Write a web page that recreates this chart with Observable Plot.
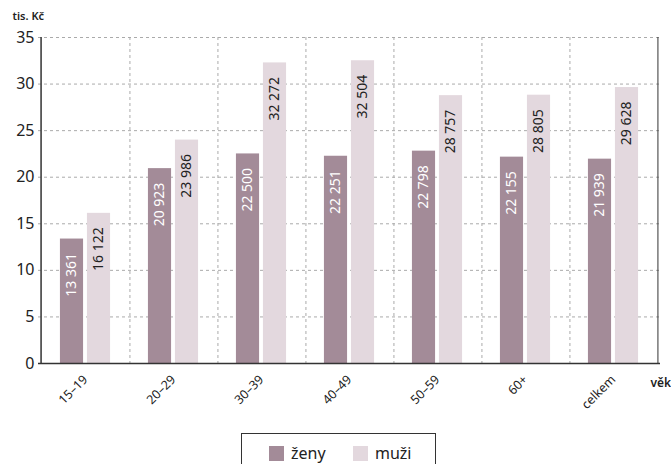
<!DOCTYPE html>
<html>
<head>
<meta charset="utf-8">
<script src="https://cdn.jsdelivr.net/npm/d3@7"></script>
<script src="https://cdn.jsdelivr.net/npm/@observablehq/plot@0.6"></script>
<style>
  body { margin: 0; background: #fff; font-family: "Noto Sans", sans-serif; }
  #wrap { position: relative; width: 671px; height: 464px; overflow: hidden; }
  #legend { position: absolute; left: 241px; top: 433px; width: 195px; height: 40px;
    border: 1px solid #333; box-sizing: border-box; font-size: 16px; color: #222; }
  .item { position: absolute; top: 11px; display: flex; align-items: center; line-height: 16px; height: 16px; }
  .sw { width: 15px; height: 15px; margin-right: 7px; }
</style>
</head>
<body>
<div id="wrap"></div>
<script>
const categories = ["15–19", "20–29", "30–39", "40–49", "50–59", "60+", "celkem"];
const zeny = [13361, 20923, 22500, 22251, 22798, 22155, 21939];
const muzi = [16122, 23986, 32272, 32504, 28757, 28805, 29628];
const yTicks = [0, 5, 10, 15, 20, 25, 30, 35];
const seriesNames = ["ženy", "muži"];
const colors = ["#a38b98", "#e3d8de"];

const rows = categories.map((c, i) => ({cat: c, zeny: zeny[i] / 1000, muzi: muzi[i] / 1000, zl: zeny[i], ml: muzi[i]}));
const fmt = d3.formatLocale({decimal: ",", thousands: " ", grouping: [3], currency: ["", ""]}).format(",d");

const W = 671, ML = 38, MR = 11;
const bw = (W - ML - MR) / categories.length;
const barW = 24, gap = 3;
const side = (bw - 2 * barW - gap) / 2;
const grid = {stroke: "#aaa", strokeDasharray: "3,3", strokeWidth: 1};

const chart = Plot.plot({
  width: W, height: 430,
  marginLeft: ML, marginRight: MR, marginTop: 37, marginBottom: 67,
  style: {fontFamily: "Noto Sans, sans-serif", color: "#222", background: "#fff"},
  x: {domain: categories, paddingInner: 0, paddingOuter: 0, label: null},
  y: {domain: [0, 35], label: null},
  marks: [
    Plot.ruleY(yTicks.slice(1), grid),
    Plot.ruleX(categories.slice(0, -1), {x: d => d, dx: bw / 2, ...grid}),
    Plot.barY(rows, {x: "cat", y: "zeny", fill: colors[0], insetLeft: side, insetRight: side + barW + gap}),
    Plot.barY(rows, {x: "cat", y: "muzi", fill: colors[1], insetLeft: side + barW + gap, insetRight: side}),
    Plot.text(rows, {x: "cat", y: "zeny", text: d => fmt(d.zl), rotate: -90, textAnchor: "end",
      dx: -(barW + gap) / 2, dy: 14, fill: "#fff", fontSize: 14}),
    Plot.text(rows, {x: "cat", y: "muzi", text: d => fmt(d.ml), rotate: -90, textAnchor: "end",
      dx: (barW + gap) / 2, dy: 14, fill: "#222", fontSize: 14}),
    Plot.ruleY([0], {stroke: "#333", strokeWidth: 1.5}),
    Plot.ruleX([categories[0]], {x: d => d, dx: -bw / 2, stroke: "#333", strokeWidth: 1.5}),
    Plot.ruleX([categories[categories.length - 1]], {x: d => d, dx: bw / 2, stroke: "#333", strokeWidth: 1}),
    Plot.axisY({ticks: yTicks, tickSize: 0, tickPadding: 4, fontSize: 16, label: null}),
    Plot.axisX({tickSize: 0, tickRotate: -45, tickPadding: 14, fontSize: 12.5, label: null}),
    Plot.text(["tis. Kč"], {frameAnchor: "top-left", dx: -26, dy: -18, fontSize: 11, fontWeight: 600, textAnchor: "start", lineAnchor: "bottom"}),
    Plot.text(["věk"], {frameAnchor: "bottom-right", dx: -10, dy: 23, fontSize: 12, fontWeight: 600, textAnchor: "start"})
  ]
});
document.getElementById("wrap").appendChild(chart);

const legend = document.createElement("div");
legend.id = "legend";
const lefts = [27, 111];
seriesNames.forEach((n, i) => {
  const it = document.createElement("div");
  it.className = "item";
  it.style.left = lefts[i] + "px";
  it.innerHTML = `<span class="sw" style="background:${colors[i]}"></span><span>${n}</span>`;
  legend.appendChild(it);
});
document.getElementById("wrap").appendChild(legend);
</script>
</body>
</html>
